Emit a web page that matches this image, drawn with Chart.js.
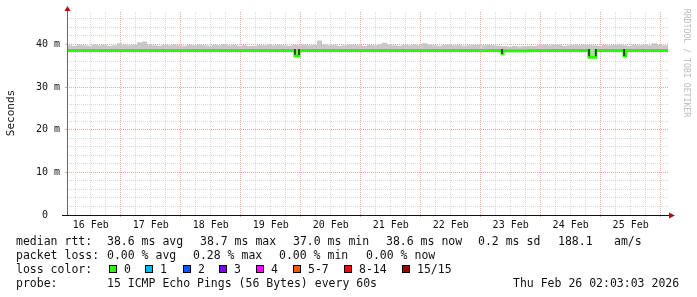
<!DOCTYPE html>
<html>
<head>
<meta charset="utf-8">
<script src="https://cdn.jsdelivr.net/npm/chart.js@4.4.1/dist/chart.umd.min.js"></script>
<style>
  body { margin: 0; background: #fff; }
  #wrap { position: relative; width: 697px; height: 297px; overflow: hidden; font-family: "DejaVu Sans Mono", monospace; color: #111; background: #fff; }
  canvas { position: absolute; left: 0; top: 0; }
  .t { position: absolute; font-size: 11.5px; line-height: 14px; white-space: pre; }
  .box { position: absolute; top: 265px; width: 6px; height: 6px; border: 1px solid #000; }
  #ylabel { position: absolute; left: -29px; top: 106px; width: 80px; text-align: center; font-size: 11px; line-height: 14px; transform: rotate(-90deg); }
  #mark { position: absolute; left: 627px; top: 58px; width: 120px; text-align: center; font-size: 8.2px; line-height: 10px; color: #bbb; transform: rotate(90deg); white-space: pre; }
</style>
</head>
<body>
<div id="wrap">
  <canvas id="chart" width="697" height="297"></canvas>
  <div id="ylabel">Seconds</div>
  <div id="mark">RRDTOOL / TOBI OETIKER</div>

  <div class="t" style="left:16px;top:234px">median rtt:</div>
  <div class="t" style="left:107px;top:234px">38.6 ms avg</div>
  <div class="t" style="left:200px;top:234px">38.7 ms max</div>
  <div class="t" style="left:293px;top:234px">37.0 ms min</div>
  <div class="t" style="left:386px;top:234px">38.6 ms now</div>
  <div class="t" style="left:478px;top:234px">0.2 ms sd</div>
  <div class="t" style="left:558px;top:234px">188.1</div>
  <div class="t" style="left:614px;top:234px">am/s</div>

  <div class="t" style="left:16px;top:248px">packet loss:</div>
  <div class="t" style="left:107px;top:248px">0.00 % avg</div>
  <div class="t" style="left:193px;top:248px">0.28 % max</div>
  <div class="t" style="left:279px;top:248px">0.00 % min</div>
  <div class="t" style="left:366px;top:248px">0.00 % now</div>

  <div class="t" style="left:16px;top:262px">loss color:</div>
  <div id="lossLegend"></div>

  <div class="t" style="left:16px;top:276px">probe:</div>
  <div class="t" style="left:107px;top:276px">15 ICMP Echo Pings (56 Bytes) every 60s</div>
  <div class="t" style="left:513px;top:276px">Thu Feb 26 02:03:03 2026</div>
</div>
<script>
// time axis is in days since 16 Feb 00:00
const xMin = 0.105;
const xMax = 10.122;
const yMax = 47.6;

const dayLabels = ['16 Feb', '17 Feb', '18 Feb', '19 Feb', '20 Feb', '21 Feb', '22 Feb', '23 Feb', '24 Feb', '25 Feb'];
const yLabelValues = [0, 10, 20, 30, 40];
const yLabelTexts = ['0  ', '10 m', '20 m', '30 m', '40 m'];

// loss legend
const lossNames = ['0', '1', '2', '3', '4', '5-7', '8-14', '15/15'];
const lossColors = ['#26ff00', '#00b8ff', '#0059ff', '#7e00ff', '#ff00ff', '#ff5500', '#ff0000', '#a10000'];
const lossBoxX = [109, 145, 183, 219, 256, 293, 344, 402];

// median rtt (ms), step breakpoints (value holds until next), with loss class index
const medianDays = [0.105, 3.905, 3.972, 7.0, 7.017, 7.355, 7.372, 7.8, 8.805, 8.92, 9.39, 9.415, 10.122];
const medianMs   = [38.6,  37.3,  38.6,  38.6, 38.6, 37.8,  38.5,  38.6, 37.0,  38.6, 37.3,  38.6,  38.6];
const medianLoss = [0,     0,     0,     1,    0,    0,     0,     0,    0,     0,    0,     0,     0];

// dark smoke at the dips
const dipDays = [3.905, 3.972, 7.355, 8.805, 8.92, 9.39];
const dipTopMs = [38.9, 38.9, 38.9, 38.9, 38.9, 38.9];
const dipLowMs = [37.6, 37.5, 37.8, 37.2, 37.2, 37.3];

// smoke top (ms), every 2 hours from xMin
const smokeStepDays = 1 / 12;
const smokeTopMs = [
  39.8, 39.7, 39.9, 39.8, 39.7, 40.0, 39.8, 39.9, 39.7, 39.8, 40.3, 39.9,
  39.8, 40.0, 40.5, 40.7, 39.9, 39.8, 39.7, 39.9, 39.8, 40.0, 39.8, 39.7,
  39.9, 39.8, 40.0, 39.8, 39.7, 39.9, 39.8, 40.1, 39.8, 39.9, 39.7, 39.8,
  39.6, 39.7, 39.9, 39.8, 40.0, 39.8, 39.9, 39.8, 39.7, 39.9, 39.8, 40.0,
  39.8, 39.9, 40.9, 40.0, 39.8, 39.9, 39.7, 39.8, 40.0, 39.9, 39.8, 39.7,
  39.9, 39.8, 40.0, 40.4, 39.9, 39.8, 39.7, 39.9, 39.8, 40.0, 39.8, 40.3,
  39.9, 39.8, 39.7, 39.9, 40.0, 39.8, 39.9, 39.7, 39.8, 39.9, 40.0, 39.8,
  39.9, 39.8, 39.7, 39.6, 39.5, 39.6, 39.5, 39.6, 39.7, 39.6, 39.8, 39.9,
  39.8, 40.0, 39.9, 39.7, 39.8, 39.9, 39.8, 40.0, 39.9, 39.8, 39.7, 39.9,
  39.8, 39.9, 40.0, 39.8, 39.7, 39.9, 39.8, 40.0, 39.8, 40.3, 39.9, 39.8,
  39.8
];

const lossLegend = document.getElementById('lossLegend');
lossNames.forEach((name, i) => {
  const box = document.createElement('div');
  box.className = 'box';
  box.style.left = lossBoxX[i] + 'px';
  box.style.background = lossColors[i];
  lossLegend.appendChild(box);
  const label = document.createElement('div');
  label.className = 't';
  label.style.left = (lossBoxX[i] + 15) + 'px';
  label.style.top = '262px';
  label.textContent = name;
  lossLegend.appendChild(label);
});

const smokePoints = smokeTopMs.map((v, i) => ({ x: xMin + i * smokeStepDays, y: v }));
smokePoints.push({ x: xMax, y: smokeTopMs[smokeTopMs.length - 1] });

const medianPoints = medianDays.map((d, i) => ({ x: d, y: medianMs[i] }));

const dipPoints = [];
dipDays.forEach((d, i) => {
  dipPoints.push({ x: d, y: dipTopMs[i] }, { x: d, y: dipLowMs[i] }, { x: d, y: null });
});

const isWhole = (v, step) => Math.abs(v / step - Math.round(v / step)) < 1e-6;
const majorGrid = 'rgba(225,140,140,0.75)';
const minorGrid = 'rgba(190,190,190,0.6)';

const axisArrows = {
  id: 'axisArrows',
  afterDraw(chart) {
    const { ctx, chartArea: a } = chart;
    ctx.save();
    ctx.lineWidth = 1;
    ctx.strokeStyle = '#666';
    ctx.beginPath();
    ctx.moveTo(a.left + 0.5, a.bottom);
    ctx.lineTo(a.left + 0.5, a.top - 3);
    ctx.stroke();
    ctx.strokeStyle = '#111';
    ctx.beginPath();
    ctx.moveTo(a.left - 5, a.bottom + 0.5);
    ctx.lineTo(a.right + 1, a.bottom + 0.5);
    ctx.stroke();
    ctx.fillStyle = '#a31515';
    ctx.beginPath();
    ctx.moveTo(a.left + 0.5, a.top - 6);
    ctx.lineTo(a.left - 2.5, a.top - 1);
    ctx.lineTo(a.left + 3.5, a.top - 1);
    ctx.closePath();
    ctx.fill();
    ctx.beginPath();
    ctx.moveTo(a.right + 7, a.bottom + 0.5);
    ctx.lineTo(a.right + 1, a.bottom - 2.5);
    ctx.lineTo(a.right + 1, a.bottom + 3.5);
    ctx.closePath();
    ctx.fill();
    ctx.restore();
  }
};

new Chart(document.getElementById('chart'), {
  type: 'line',
  data: {
    datasets: [
      {
        data: smokePoints,
        stepped: 'before',
        borderWidth: 0,
        pointRadius: 0,
        backgroundColor: '#c8c8c8',
        fill: 1,
        order: 3
      },
      {
        data: medianPoints,
        stepped: 'before',
        borderWidth: 3,
        pointRadius: 0,
        fill: false,
        borderColor: '#26ff00',
        segment: {
          borderColor: (ctx) => lossColors[medianLoss[ctx.p0DataIndex]]
        },
        order: 2
      },
      {
        data: dipPoints,
        borderWidth: 1.5,
        borderColor: '#222',
        pointRadius: 0,
        fill: false,
        spanGaps: false,
        order: 1
      }
    ]
  },
  options: {
    responsive: false,
    animation: false,
    devicePixelRatio: 1,
    layout: { padding: { top: 12, right: 29, left: 0, bottom: 0 } },
    plugins: { legend: { display: false }, tooltip: { enabled: false }, title: { display: false } },
    scales: {
      x: {
        type: 'linear',
        min: xMin,
        max: xMax,
        afterFit: (scale) => { scale.height = 82; },
        afterBuildTicks: (scale) => {
          const ticks = [];
          for (let v = Math.ceil(xMin * 4) / 4; v <= xMax; v += 0.25) ticks.push({ value: v });
          scale.ticks = ticks;
        },
        border: { display: false, dash: [1, 1] },
        grid: {
          lineWidth: 1,
          color: (ctx) => isWhole(ctx.tick.value, 1) ? majorGrid : minorGrid,
          tickLength: 2,
          tickColor: (ctx) => isWhole(ctx.tick.value, 1) ? majorGrid : 'rgba(0,0,0,0)'
        },
        ticks: {
          autoSkip: false,
          maxRotation: 0,
          minRotation: 0,
          padding: 2,
          color: '#111',
          font: { family: 'DejaVu Sans Mono', size: 10 },
          callback: (value) => {
            const day = Math.floor(value + 1e-9);
            return Math.abs(value - day - 0.5) < 1e-6 ? (dayLabels[day] || '') : '';
          }
        }
      },
      y: {
        type: 'linear',
        min: 0,
        max: yMax,
        afterFit: (scale) => { scale.width = 67; },
        afterBuildTicks: (scale) => {
          const ticks = [];
          for (let v = 0; v <= yMax; v += 2) ticks.push({ value: v });
          scale.ticks = ticks;
        },
        border: { display: false, dash: [1, 1] },
        grid: {
          lineWidth: 1,
          color: (ctx) => isWhole(ctx.tick.value, 10) ? majorGrid : minorGrid,
          tickLength: 2,
          tickColor: (ctx) => isWhole(ctx.tick.value, 10) ? majorGrid : 'rgba(0,0,0,0)'
        },
        ticks: {
          autoSkip: false,
          padding: 5,
          color: '#111',
          font: { family: 'DejaVu Sans Mono', size: 10 },
          callback: (value) => {
            const i = yLabelValues.indexOf(value);
            return i >= 0 ? yLabelTexts[i] : '';
          }
        }
      }
    }
  },
  plugins: [axisArrows]
});
</script>
</body>
</html>
